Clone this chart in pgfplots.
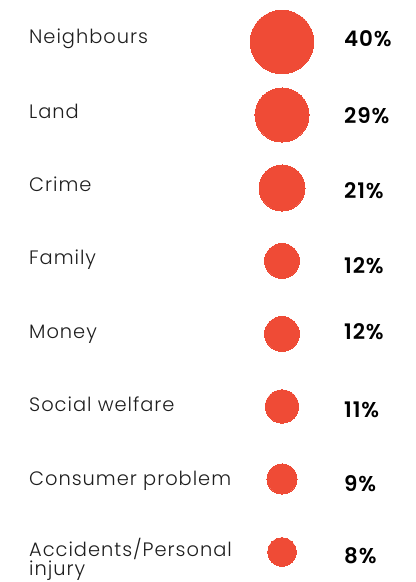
\documentclass[border=0pt]{standalone}
\usepackage{pgfplots}
\usepackage{pgfplotstable}
\pgfplotsset{compat=1.18}
\usepackage{fontspec}
\setmainfont{Poppins}[UprightFont=* Light, BoldFont=* SemiBold]
\newfontfamily\labfont{Poppins}[UprightFont=* Light, LetterSpace=5]
\newfontfamily\pctfont{Poppins}[UprightFont=* SemiBold, LetterSpace=4]
\definecolor{redc}{RGB}{239,75,54}
\definecolor{labc}{RGB}{30,30,30}

% circles: x position, y centre (layout), value
\pgfplotstableread{
x y v
282 42 40
282 115 29
282 188 21
282 261 12
282 334 12
282 406.5 11
282 479 9
282 552 8
}\circles

% category labels (baseline positions)
\pgfplotstableread{
x y lab
29 44 Neighbours
29 118 Land
29 191 Crime
29 264 Family
29 338 Money
29 411 {Social welfare}
29 485 {Consumer problem}
29 556 {Accidents/Personal}
29 575 injury
}\labels

% percentages (baseline positions)
\pgfplotstableread{
x y p
344 47 40
344 123 29
344 198 21
344 273 12
344 339 12
344 417 11
344 491 9
344 563 8
}\pcts

\begin{document}
\begin{tikzpicture}
\begin{axis}[
  scale only axis, width=416bp, height=582bp,
  xmin=0, xmax=416, ymin=0, ymax=582, y dir=reverse,
  hide axis, clip=false]
\addplot[scatter, only marks, mark=*, color=redc,
  mark options={draw=redc, fill=redc, line width=0pt},
  point meta=\thisrow{v},
  visualization depends on={sqrt(\thisrow{v})*5.02 \as \rad},
  scatter/@pre marker code/.code={\scope[mark size=\rad bp, draw=redc, fill=redc]},
  scatter/@post marker code/.code={\endscope}]
  table[x=x, y=y] {\circles};
\addplot[only marks, mark=none, point meta=explicit symbolic,
  nodes near coords={\pgfplotspointmeta},
  every node near coord/.append style={anchor=base west, inner sep=0pt,
    font=\labfont\fontsize{19.5}{20}\selectfont, text=labc}]
  table[x=x, y=y, meta=lab] {\labels};
\addplot[only marks, mark=none, point meta=explicit symbolic,
  nodes near coords={\pgfplotspointmeta\%},
  every node near coord/.append style={anchor=base west, inner sep=0pt,
    font=\pctfont\fontsize{21.5}{22}\selectfont, text=black}]
  table[x=x, y=y, meta=p] {\pcts};
\end{axis}
\pgfresetboundingbox
\useasboundingbox (current axis.south west) rectangle (current axis.north east);
\end{tikzpicture}
\end{document}
